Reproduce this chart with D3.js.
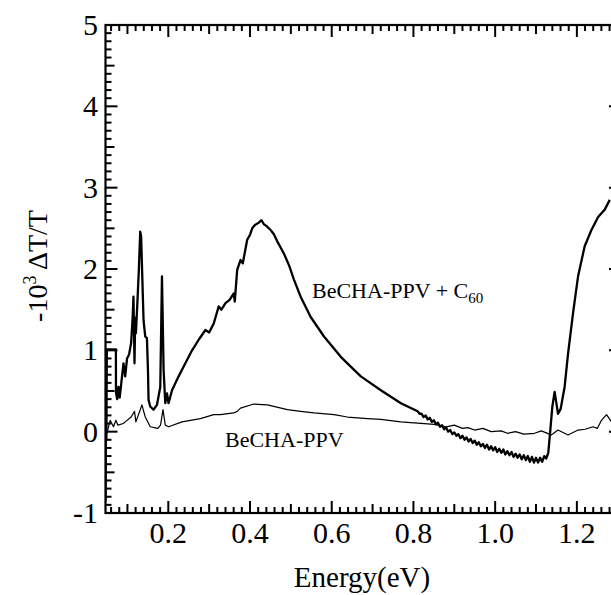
<!DOCTYPE html>
<html><head><meta charset="utf-8">
<script src="https://cdn.jsdelivr.net/npm/d3@7"></script>
<style>body{margin:0;background:#fff}svg{display:block}</style>
</head><body>
<svg id="c" width="611" height="595" font-family="Liberation Serif"></svg>
<script>
// Energy (eV) / -10^3 dT/T for BeCHA-PPV + C60 (thick trace)
const c60Energy = [0.0465,0.0475,0.0485,0.049,0.0496,0.0717,0.072,0.0748,0.078,0.081,0.085,0.0903,0.0945,0.099,0.104,0.109,0.1124,0.1148,0.1173,0.119,0.1207,0.124,0.128,0.1313,0.1335,0.1394,0.1436,0.1477,0.1502,0.1517,0.1558,0.1639,0.1723,0.1804,0.1845,0.1885,0.1926,0.1968,0.2007,0.2091,0.2253,0.2417,0.2582,0.2744,0.2908,0.30,0.3112,0.3234,0.33,0.3399,0.35,0.3602,0.3627,0.3686,0.3767,0.3823,0.3931,0.40,0.4054,0.412,0.4216,0.428,0.4339,0.44,0.4503,0.458,0.4667,0.4829,0.4952,0.5075,0.5239,0.5485,0.5811,0.6221,0.6712,0.7202,0.7693,0.8103,0.815,0.82,0.825,0.83,0.835,0.84,0.845,0.85,0.855,0.86,0.865,0.87,0.875,0.88,0.885,0.89,0.895,0.90,0.905,0.91,0.915,0.92,0.925,0.93,0.935,0.94,0.945,0.95,0.955,0.96,0.965,0.97,0.975,0.98,0.985,0.99,0.995,1.00,1.005,1.01,1.015,1.02,1.025,1.03,1.035,1.04,1.045,1.05,1.055,1.06,1.065,1.07,1.075,1.08,1.085,1.09,1.095,1.10,1.105,1.11,1.115,1.12,1.125,1.13,1.135,1.14,1.1455,1.1539,1.1603,1.1700,1.1784,1.1907,1.2029,1.2191,1.2356,1.2520,1.2682,1.2805,1.2871,1.30];
const c60Signal = [-0.85,0.35,-0.10,0.45,1.01,1.01,0.48,0.40,0.55,0.42,0.60,0.84,0.68,0.90,0.95,1.09,1.37,1.66,0.84,1.40,1.21,1.55,2.00,2.46,2.40,1.37,1.17,1.15,0.76,0.39,0.31,0.27,0.33,0.55,1.91,0.76,0.35,0.47,0.35,0.51,0.68,0.84,1.00,1.13,1.25,1.22,1.33,1.54,1.50,1.58,1.62,1.70,1.60,1.99,2.11,2.07,2.36,2.42,2.50,2.54,2.57,2.60,2.55,2.53,2.48,2.43,2.34,2.19,2.05,1.87,1.66,1.41,1.17,0.92,0.68,0.51,0.35,0.25,0.22,0.22,0.18,0.20,0.15,0.17,0.12,0.14,0.09,0.11,0.06,0.08,0.03,0.05,0.00,0.02,-0.03,-0.01,-0.05,-0.03,-0.08,-0.05,-0.10,-0.07,-0.12,-0.09,-0.14,-0.11,-0.16,-0.13,-0.18,-0.15,-0.20,-0.16,-0.22,-0.18,-0.23,-0.19,-0.25,-0.21,-0.26,-0.22,-0.28,-0.24,-0.29,-0.25,-0.31,-0.27,-0.32,-0.28,-0.34,-0.29,-0.35,-0.30,-0.37,-0.31,-0.38,-0.32,-0.38,-0.32,-0.37,-0.30,-0.33,-0.26,0.02,0.31,0.49,0.22,0.28,0.55,0.96,1.46,1.91,2.28,2.48,2.64,2.73,2.85];

// BeCHA-PPV (thin trace)
const ppvEnergy = [0.0463,0.0496,0.0577,0.0659,0.0717,0.0766,0.090,0.0945,0.109,0.1173,0.1207,0.1313,0.1354,0.1436,0.1477,0.1558,0.1743,0.1810,0.187,0.1926,0.2007,0.2335,0.2785,0.3112,0.3276,0.3602,0.3686,0.3767,0.4093,0.4425,0.4915,0.5239,0.5566,0.6057,0.6385,0.6876,0.7202,0.7693,0.8510,0.88,0.90,0.92,0.933,0.95,0.97,0.99,1.0147,1.03,1.05,1.07,1.0964,1.1129,1.1374,1.1539,1.1784,1.2029,1.22,1.2397,1.25,1.2602,1.2726,1.2848,1.30];
const ppvSignal = [-0.02,-0.02,0.14,0.06,0.14,0.08,0.10,0.12,0.18,0.25,0.12,0.27,0.33,0.18,0.14,0.06,0.04,0.08,0.27,0.08,0.06,0.12,0.16,0.21,0.21,0.23,0.25,0.29,0.34,0.33,0.27,0.25,0.23,0.21,0.18,0.16,0.15,0.12,0.09,0.06,0.08,0.04,0.05,0.02,0.04,0.00,0.01,-0.02,0.00,-0.03,-0.02,0.01,-0.04,0.02,-0.04,0.02,0.03,0.06,0.04,0.14,0.21,0.12,0.15];

const xTickLabels = [0.2,0.4,0.6,0.8,1.0,1.2];
const yTickLabels = [-1,0,1,2,3,4,5];

const L = 105.5, R = 621, T = 25, B = 513;
const FONT = "'Liberation Serif'";
const svg = d3.select('#c');
const x = d3.scaleLinear().domain([0.0463, 1.308]).range([L, R]);
const y = d3.scaleLinear().domain([-1, 5]).range([B, T]);

// ticks (minor 0.02 / 0.1, medium, major) drawn first
const xTicks = d3.range(3, 66).map(i=>i*0.02);
const yTicks = d3.range(-10, 51).map(i=>i/10);
function xLen(v){const k=Math.round(v*100); return k%20===0?12:(k%10===0?9:6);}
function yLen(v){const k=Math.round(v*10); return k%10===0?12:(k%5===0?9:6);}
const tg = svg.append('g');
tg.selectAll('line.xb').data(xTicks).join('line').attr('class','xb')
  .attr('x1',d=>x(d)).attr('x2',d=>x(d)).attr('y1',B).attr('y2',d=>B-xLen(d))
  .style('stroke','#000').style('stroke-width','2px');
tg.selectAll('line.xt').data(xTicks).join('line').attr('class','xt')
  .attr('x1',d=>x(d)).attr('x2',d=>x(d)).attr('y1',T).attr('y2',d=>T+xLen(d))
  .style('stroke','#000').style('stroke-width','2px');
tg.selectAll('line.yl').data(yTicks).join('line').attr('class','yl')
  .attr('x1',L).attr('x2',d=>L+yLen(d)).attr('y1',d=>y(d)).attr('y2',d=>y(d))
  .style('stroke','#000').style('stroke-width','2px');
tg.selectAll('line.yr').data(yTicks).join('line').attr('class','yr')
  .attr('x1',R).attr('x2',d=>R-yLen(d)).attr('y1',d=>y(d)).attr('y2',d=>y(d))
  .style('stroke','#000').style('stroke-width','2px');

const defs = svg.append('defs');
defs.append('clipPath').attr('id','plotclip').append('rect')
  .attr('x',L).attr('y',T).attr('width',R-L).attr('height',B-T);

const line = d3.line().x(d=>x(d[0])).y(d=>y(d[1]));
const ppv = ppvEnergy.map((e,i)=>[e,ppvSignal[i]]);
const c60 = c60Energy.map((e,i)=>[e,c60Signal[i]]);
const g = svg.append('g').attr('clip-path','url(#plotclip)');
g.append('path').datum(ppv).attr('d',line).attr('fill','none').attr('stroke','#000').attr('stroke-width',1.2).attr('stroke-linejoin','round');
g.append('path').datum(c60).attr('d',line).attr('fill','none').attr('stroke','#000').attr('stroke-width',2.3).attr('stroke-linejoin','round');

svg.append('rect').attr('x',L).attr('y',T).attr('width',R-L).attr('height',B-T)
  .attr('fill','none').attr('stroke','#000').attr('stroke-width',2.2);

// tick labels
svg.append('g').selectAll('text').data(xTickLabels).join('text')
  .attr('x',d=>x(d)).attr('y',543).attr('text-anchor','middle')
  .style('font-family',FONT).attr('font-size',30).text(d=>d.toFixed(1));
svg.append('g').selectAll('text').data(yTickLabels).join('text')
  .attr('x',98).attr('y',d=>y(d)+10).attr('text-anchor','end')
  .style('font-family',FONT).attr('font-size',30).text(d=>d);

// axis titles
svg.append('text').attr('x',362).attr('y',587).attr('text-anchor','middle')
  .style('font-family',FONT).attr('font-size',29).text('Energy(eV)');
const yt = svg.append('text').attr('transform','translate(47,266) rotate(-90)')
  .attr('text-anchor','middle').style('font-family',FONT).attr('font-size',28);
yt.append('tspan').text('-10');
yt.append('tspan').attr('font-size',18).attr('dy',-11).text('3');
yt.append('tspan').attr('dy',11).text(' \u0394T/T');

// curve labels
const l1 = svg.append('text').attr('x',312).attr('y',298).style('font-family',FONT).attr('font-size',22);
l1.append('tspan').text('BeCHA-PPV + C');
l1.append('tspan').attr('font-size',15).attr('dy',5).text('60');
svg.append('text').attr('x',225).attr('y',447).style('font-family',FONT).attr('font-size',22).text('BeCHA-PPV');
</script>
</body></html>
